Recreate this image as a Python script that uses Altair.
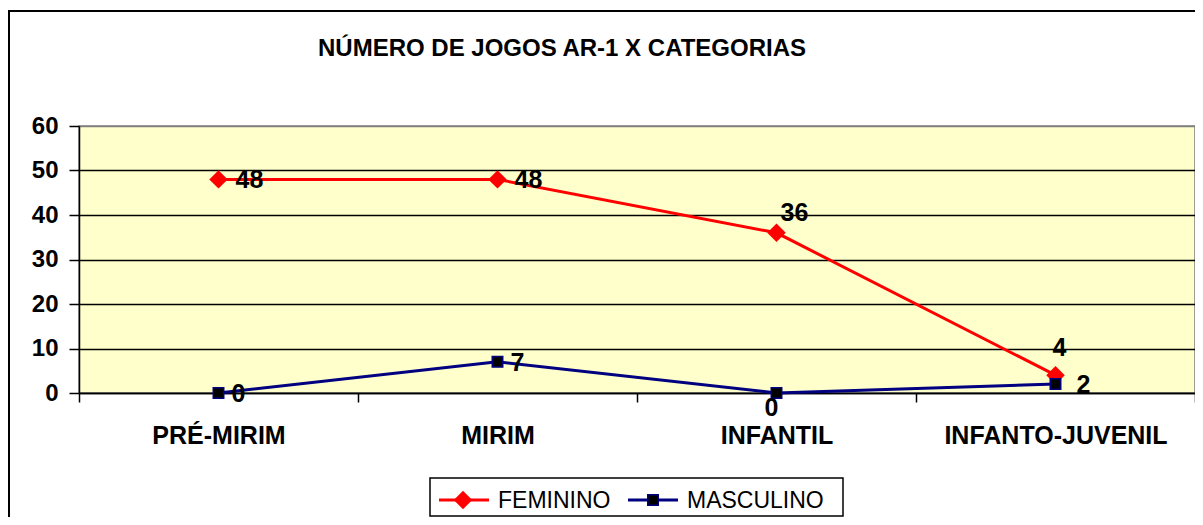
import altair as alt
import pandas as pd

TITLE = "NÚMERO DE JOGOS AR-1 X CATEGORIAS"
categories = ["PRÉ-MIRIM", "MIRIM", "INFANTIL", "INFANTO-JUVENIL"]
series_names = ["FEMININO", "MASCULINO"]
feminino = [48, 48, 36, 4]
masculino = [0, 7, 0, 2]
y_ticks = [0, 10, 20, 30, 40, 50, 60]

rows = []
for c, v in zip(categories, feminino):
    rows.append({"cat": c, "series": "FEMININO", "value": v})
for c, v in zip(categories, masculino):
    rows.append({"cat": c, "series": "MASCULINO", "value": v})
df = pd.DataFrame(rows)

FONT = "Liberation Sans"
RED = "#FF0000"
NAVY = "#000080"
W, H = 1116, 267

X = alt.X(
    "cat:N", sort=categories, title=None,
    scale=alt.Scale(type="band", paddingInner=0, paddingOuter=0),
    axis=alt.Axis(labelAngle=0, labelFont=FONT, labelFontWeight="bold", labelFontSize=25,
                  labelColor="black", labelPadding=21, labelLimit=0, tickBand="extent", tickSize=9,
                  tickColor="black", tickWidth=1.5, domainColor="black", domainWidth=1.5,
                  grid=False),
)
Y = alt.Y(
    "value:Q", title=None,
    scale=alt.Scale(domain=[0, 60], nice=False, zero=True),
    axis=alt.Axis(values=y_ticks, labelFont=FONT, labelFontWeight="bold", labelFontSize=24,
                  labelColor="black", labelPadding=11, tickSize=10, tickColor="black",
                  tickWidth=1.5, domainColor="black", domainWidth=1.5,
                  grid=True, gridWidth=1.5,
                  gridColor=alt.condition("datum.value === 60", alt.value("#808080"), alt.value("black"))),
)

base = alt.Chart(df)

lines = base.mark_line(strokeWidth=3).encode(
    x=X, y=Y,
    color=alt.Color("series:N", scale=alt.Scale(domain=series_names, range=[RED, NAVY]), legend=None),
)

pts_f = base.transform_filter(alt.datum.series == "FEMININO").mark_point(
    shape="diamond", filled=True, color=RED, size=340, opacity=1
).encode(x=X, y=Y)
pts_m = base.transform_filter(alt.datum.series == "MASCULINO").mark_point(
    shape="square", filled=True, fill="black", stroke=NAVY, strokeWidth=1.5, size=110, opacity=1
).encode(x=X, y=Y)


def label(series, cat, dx, dy, align, baseline):
    return base.transform_filter(
        (alt.datum.series == series) & (alt.datum.cat == cat)
    ).mark_text(
        font=FONT, fontWeight="bold", fontSize=25, color="black",
        dx=dx, dy=dy, align=align, baseline=baseline
    ).encode(x=X, y=Y, text=alt.Text("value:Q"))


labels = [
    label("FEMININO", "PRÉ-MIRIM", 17, 1, "left", "middle"),
    label("FEMININO", "MIRIM", 17, 1, "left", "middle"),
    label("FEMININO", "INFANTIL", 4, -12, "left", "alphabetic"),
    label("FEMININO", "INFANTO-JUVENIL", 4, -19, "center", "alphabetic"),
    label("MASCULINO", "PRÉ-MIRIM", 13, 1, "left", "middle"),
    label("MASCULINO", "MIRIM", 13, 1, "left", "middle"),
    label("MASCULINO", "INFANTIL", -5, 23, "center", "alphabetic"),
    label("MASCULINO", "INFANTO-JUVENIL", 21, 1, "left", "middle"),
]

# Legend (manual, bottom center, boxed)
leg_df = pd.DataFrame({"series": series_names})
leg = alt.Chart(leg_df)
leg_box = leg.transform_filter(alt.datum.series == "FEMININO").mark_rect(
    fill="white", stroke="black", strokeWidth=1.5
).encode(x=alt.value(351), x2=alt.value(764), y=alt.value(352), y2=alt.value(390))
LY = 374
leg_line_f = leg.transform_filter(alt.datum.series == "FEMININO").mark_rule(
    color=RED, strokeWidth=3
).encode(x=alt.value(360), x2=alt.value(410), y=alt.value(LY))
leg_pt_f = leg.transform_filter(alt.datum.series == "FEMININO").mark_point(
    shape="diamond", filled=True, color=RED, size=340, opacity=1
).encode(x=alt.value(384), y=alt.value(LY))
leg_tx_f = leg.transform_filter(alt.datum.series == "FEMININO").mark_text(
    font=FONT, fontSize=23, color="black", align="left", baseline="middle", dy=1
).encode(x=alt.value(419), y=alt.value(LY), text="series:N")
leg_line_m = leg.transform_filter(alt.datum.series == "MASCULINO").mark_rule(
    color=NAVY, strokeWidth=3
).encode(x=alt.value(549), x2=alt.value(599), y=alt.value(LY))
leg_pt_m = leg.transform_filter(alt.datum.series == "MASCULINO").mark_point(
    shape="square", filled=True, fill="black", stroke=NAVY, strokeWidth=1.5, size=110, opacity=1
).encode(x=alt.value(574), y=alt.value(LY))
leg_tx_m = leg.transform_filter(alt.datum.series == "MASCULINO").mark_text(
    font=FONT, fontSize=23, color="black", align="left", baseline="middle", dy=1
).encode(x=alt.value(608), y=alt.value(LY), text="series:N")

# Title
title_df = pd.DataFrame({"t": [TITLE]})
title = alt.Chart(title_df).mark_text(
    font=FONT, fontWeight="bold", fontSize=24, color="black", align="center", baseline="alphabetic"
).encode(x=alt.value(483), y=alt.value(-70), text="t:N")

# Outer frame
frame = alt.Chart(title_df).mark_rect(
    fill="transparent", stroke="black", strokeWidth=2
).encode(x=alt.value(-70), x2=alt.value(1135), y=alt.value(-115), y2=alt.value(420))

chart = alt.layer(
    lines, pts_f, pts_m, *labels,
    leg_box, leg_line_f, leg_pt_f, leg_tx_f, leg_line_m, leg_pt_m, leg_tx_m,
    title, frame,
).properties(
    width=W, height=H,
    autosize=alt.AutoSizeParams(type="none"),
    padding={"left": 71, "top": 118, "right": 0, "bottom": 124},
    background="white",
).configure_view(
    fill="#FFFFCC", stroke="#808080", strokeWidth=1.5
)

chart.save("out.html", embed_options={"renderer": "svg", "actions": False})
